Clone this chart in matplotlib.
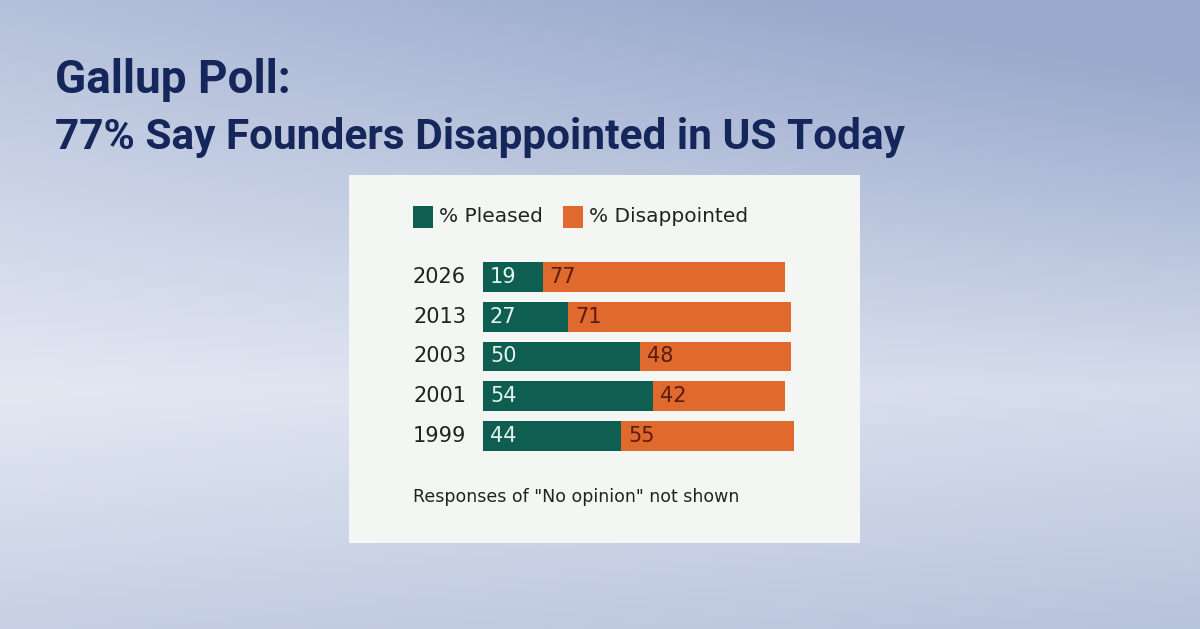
import numpy as np
import matplotlib.pyplot as plt
from matplotlib.patches import Rectangle

years = ["2026", "2013", "2003", "2001", "1999"]
pleased = [19, 27, 50, 54, 44]
disappointed = [77, 71, 48, 42, 55]

green = "#0f5e52"
orange = "#e0692e"
navy = "#15265a"

W, H = 1200, 629
fig = plt.figure(figsize=(12, 6.29), dpi=100)

# background gradient
bg = fig.add_axes([0, 0, 1, 1])
bg.set_axis_off()
xx, yy = np.meshgrid(np.linspace(0, 1, 300), np.linspace(0, 1, 160))
light = np.array([0.89, 0.91, 0.95])
dark = np.array([0.60, 0.66, 0.80])
# lighter band across the left-middle, darker towards top-right and bottom
upper = np.clip((0.62 - yy) / 0.62, 0, 1)
t = np.clip(1.0 * np.abs(yy - 0.62) + 0.35 * xx * upper + 0.2 * xx, 0, 1)
img = light[None, None, :] * (1 - t[..., None]) + dark[None, None, :] * t[..., None]
bg.imshow(img, extent=[0, 1, 0, 1], aspect="auto", origin="upper")
bg.set_xlim(0, 1)
bg.set_ylim(0, 1)

# white panel
bg.add_patch(Rectangle((349 / W, 1 - 543 / H), (860 - 349) / W, (543 - 175) / H,
                       facecolor="#f4f6f3", edgecolor="none", zorder=2))

# titles
fig.text(55 / W, 1 - 80 / H, "Gallup Poll:", color=navy, fontsize=33, fontweight="bold",
         family="Roboto", va="center", ha="left")
fig.text(55 / W, 1 - 137 / H, "77% Say Founders Disappointed in US Today", color=navy,
         fontsize=30.5, family="Roboto", fontweight="bold", va="center", ha="left")

# bar axes
px_per_unit = 3.146
row = 39.75
left = 483
top = 277 - row / 2
ax = fig.add_axes([left / W, 1 - (top + 5 * row) / H, 100 * px_per_unit / W, 5 * row / H])
ax.set_xlim(0, 100)
ax.set_ylim(4.5, -0.5)
ax.set_axis_off()

y = np.arange(len(years))
ax.barh(y, pleased, height=0.75, color=green, edgecolor="none")
ax.barh(y, disappointed, left=pleased, height=0.75, color=orange, edgecolor="none")

for i in range(len(years)):
    ax.text(-5.4, i, years[i], ha="right", va="center", fontsize=15, color="#222222")
    ax.text(2.2, i, str(pleased[i]), ha="left", va="center", fontsize=15, color="#e6f2ee")
    ax.text(pleased[i] + 2.2, i, str(disappointed[i]), ha="left", va="center",
            fontsize=15, color="#5a1c10")

# legend
bg.add_patch(Rectangle((413 / W, 1 - 228 / H), 20 / W, 22 / H, facecolor=green,
                       edgecolor="none", zorder=3))
bg.add_patch(Rectangle((563 / W, 1 - 228 / H), 20 / W, 22 / H, facecolor=orange,
                       edgecolor="none", zorder=3))
fig.text(439 / W, 1 - 217 / H, "% Pleased", fontsize=14.5, color="#222222", va="center")
fig.text(589 / W, 1 - 217 / H, "% Disappointed", fontsize=14.5, color="#222222", va="center")

fig.text(413 / W, 1 - 497 / H, 'Responses of "No opinion" not shown', fontsize=12.5,
         color="#222222", va="center")

fig.savefig("out.png", dpi=100)
